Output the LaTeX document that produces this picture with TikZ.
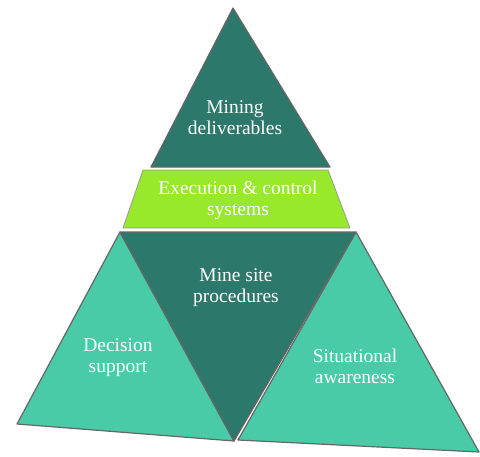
\documentclass[tikz,border=0pt]{standalone}
\usepackage{fontspec}
\setmainfont{Liberation Serif}

\definecolor{minedark}{RGB}{44,120,106}
\definecolor{minelight}{RGB}{72,203,166}
\definecolor{minelime}{RGB}{152,232,44}

\begin{document}
\begin{tikzpicture}[x=1pt, y=-1pt,
    piece/.style={draw=black!60, line width=1.2pt, line join=round},
    lbl/.style={text=white, align=center, font=\fontsize{19.5}{21}\selectfont}]
    \useasboundingbox (0,0) rectangle (480,456);

    % Sommets
    \coordinate (top) at (233,8);
    \coordinate (topl) at (151,167);
    \coordinate (topr) at (330,167);
    \coordinate (bandtl) at (143,170);
    \coordinate (bandtr) at (328,170);
    \coordinate (bandbr) at (350,228);
    \coordinate (bandbl) at (123,228);
    \coordinate (midl) at (120,232);
    \coordinate (midr) at (356,232);
    \coordinate (midb) at (234,441);
    \coordinate (leftb) at (17,424);
    \coordinate (rightb) at (479,452);
    \coordinate (rightbl) at (238,440);

    % Triangles
    \filldraw[piece, fill=minedark] (top) -- (topr) -- (topl) -- cycle;
    \filldraw[piece, fill=minelight] (midl) -- (midb) -- (leftb) -- cycle;
    \filldraw[piece, fill=minelight] (midr) -- (rightb) -- (rightbl) -- cycle;
    \filldraw[piece, fill=minedark] (midl) -- (midr) -- (midb) -- cycle;

    % Bande centrale
    \filldraw[draw=black!40, line width=0.8pt, fill=minelime] (bandtl) -- (bandtr) -- (bandbr) -- (bandbl) -- cycle;

    % Textes
    \node[lbl] (deliv) at (235,118) {Mining\\deliverables};
    \node[lbl] (exec) at (238,200) {Execution \& control\\systems};
    \node[lbl] (proc) at (236,288) {Mine site\\procedures};
    \node[lbl] (decision) at (118,358) {Decision\\support};
    \node[lbl] (aware) at (355,366) {Situational\\awareness};
\end{tikzpicture}
\end{document}
